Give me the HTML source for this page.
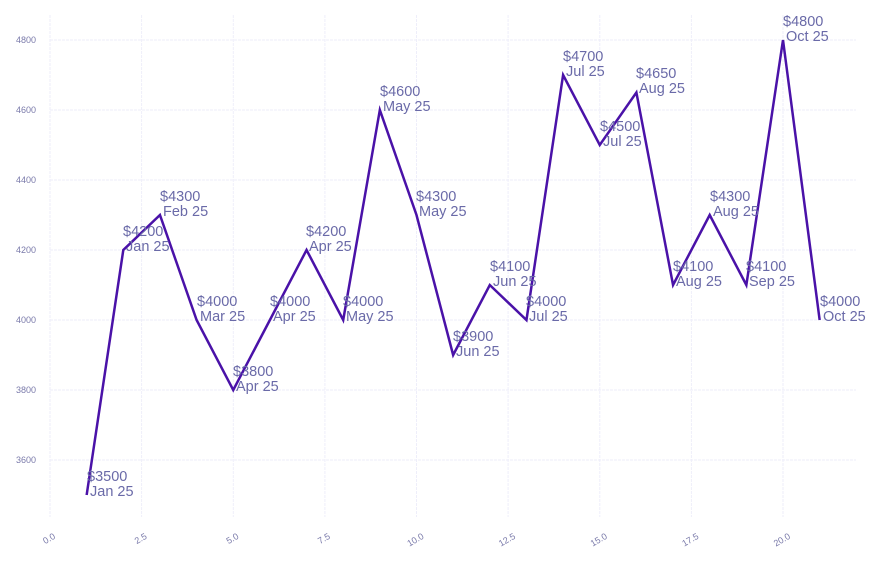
<!DOCTYPE html>
<html><head><meta charset="utf-8"><style>
html,body{margin:0;padding:0;background:#fff;}
svg{display:block;font-family:"Liberation Sans",sans-serif;}
.g{stroke:#eeeefa;stroke-width:1;stroke-dasharray:3,1}
.yt{font-size:9px;fill:#7a7aaa;text-anchor:end}
.xt{font-size:9px;fill:#7a7aaa;text-anchor:end}
.l{font-size:14.5px;fill:#6a6aa8}
</style></head><body>
<svg width="880" height="562" viewBox="0 0 880 562">
<g class="g">
<line x1="50" y1="15" x2="50" y2="517"/><line x1="141.6" y1="15" x2="141.6" y2="517"/><line x1="233.3" y1="15" x2="233.3" y2="517"/><line x1="324.9" y1="15" x2="324.9" y2="517"/><line x1="416.5" y1="15" x2="416.5" y2="517"/><line x1="508.1" y1="15" x2="508.1" y2="517"/><line x1="599.8" y1="15" x2="599.8" y2="517"/><line x1="691.4" y1="15" x2="691.4" y2="517"/><line x1="783" y1="15" x2="783" y2="517"/>
<line x1="50" y1="40" x2="856" y2="40"/><line x1="50" y1="110" x2="856" y2="110"/><line x1="50" y1="180" x2="856" y2="180"/><line x1="50" y1="250" x2="856" y2="250"/><line x1="50" y1="320" x2="856" y2="320"/><line x1="50" y1="390" x2="856" y2="390"/><line x1="50" y1="460" x2="856" y2="460"/>
</g>
<g class="yt">
<text x="36" y="43">4800</text><text x="36" y="113">4600</text><text x="36" y="183">4400</text><text x="36" y="253">4200</text><text x="36" y="323">4000</text><text x="36" y="393">3800</text><text x="36" y="463">3600</text>
</g>
<g class="xt">
<text transform="translate(56,538) rotate(-30)">0.0</text><text transform="translate(147.6,538) rotate(-30)">2.5</text><text transform="translate(239.3,538) rotate(-30)">5.0</text><text transform="translate(330.9,538) rotate(-30)">7.5</text><text transform="translate(424.5,538) rotate(-30)">10.0</text><text transform="translate(516.1,538) rotate(-30)">12.5</text><text transform="translate(607.8,538) rotate(-30)">15.0</text><text transform="translate(699.4,538) rotate(-30)">17.5</text><text transform="translate(791,538) rotate(-30)">20.0</text>
</g>
<polyline fill="none" stroke="#4a12a8" stroke-width="2.5" stroke-linejoin="miter" points="86.65,495 123.3,250 159.95,215 196.6,320 233.25,390 269.9,320 306.55,250 343.2,320 379.85,110 416.5,215 453.15,355 489.8,285 526.45,320 563.1,75 599.75,145 636.4,92.5 673.05,285 709.7,215 746.35,285 783,40 819.65,320"/>
<g class="l">
<text x="87" y="481">$3500<tspan x="90" dy="15">Jan 25</tspan></text>
<text x="123" y="236">$4200<tspan x="126" dy="15">Jan 25</tspan></text>
<text x="160" y="201">$4300<tspan x="163" dy="15">Feb 25</tspan></text>
<text x="197" y="306">$4000<tspan x="200" dy="15">Mar 25</tspan></text>
<text x="233" y="376">$3800<tspan x="236" dy="15">Apr 25</tspan></text>
<text x="270" y="306">$4000<tspan x="273" dy="15">Apr 25</tspan></text>
<text x="306" y="236">$4200<tspan x="309" dy="15">Apr 25</tspan></text>
<text x="343" y="306">$4000<tspan x="346" dy="15">May 25</tspan></text>
<text x="380" y="96">$4600<tspan x="383" dy="15">May 25</tspan></text>
<text x="416" y="201">$4300<tspan x="419" dy="15">May 25</tspan></text>
<text x="453" y="341">$3900<tspan x="456" dy="15">Jun 25</tspan></text>
<text x="490" y="271">$4100<tspan x="493" dy="15">Jun 25</tspan></text>
<text x="526" y="306">$4000<tspan x="529" dy="15">Jul 25</tspan></text>
<text x="563" y="61">$4700<tspan x="566" dy="15">Jul 25</tspan></text>
<text x="600" y="131">$4500<tspan x="603" dy="15">Jul 25</tspan></text>
<text x="636" y="78">$4650<tspan x="639" dy="15">Aug 25</tspan></text>
<text x="673" y="271">$4100<tspan x="676" dy="15">Aug 25</tspan></text>
<text x="710" y="201">$4300<tspan x="713" dy="15">Aug 25</tspan></text>
<text x="746" y="271">$4100<tspan x="749" dy="15">Sep 25</tspan></text>
<text x="783" y="26">$4800<tspan x="786" dy="15">Oct 25</tspan></text>
<text x="820" y="306">$4000<tspan x="823" dy="15">Oct 25</tspan></text>
</g>
</svg>
</body></html>
